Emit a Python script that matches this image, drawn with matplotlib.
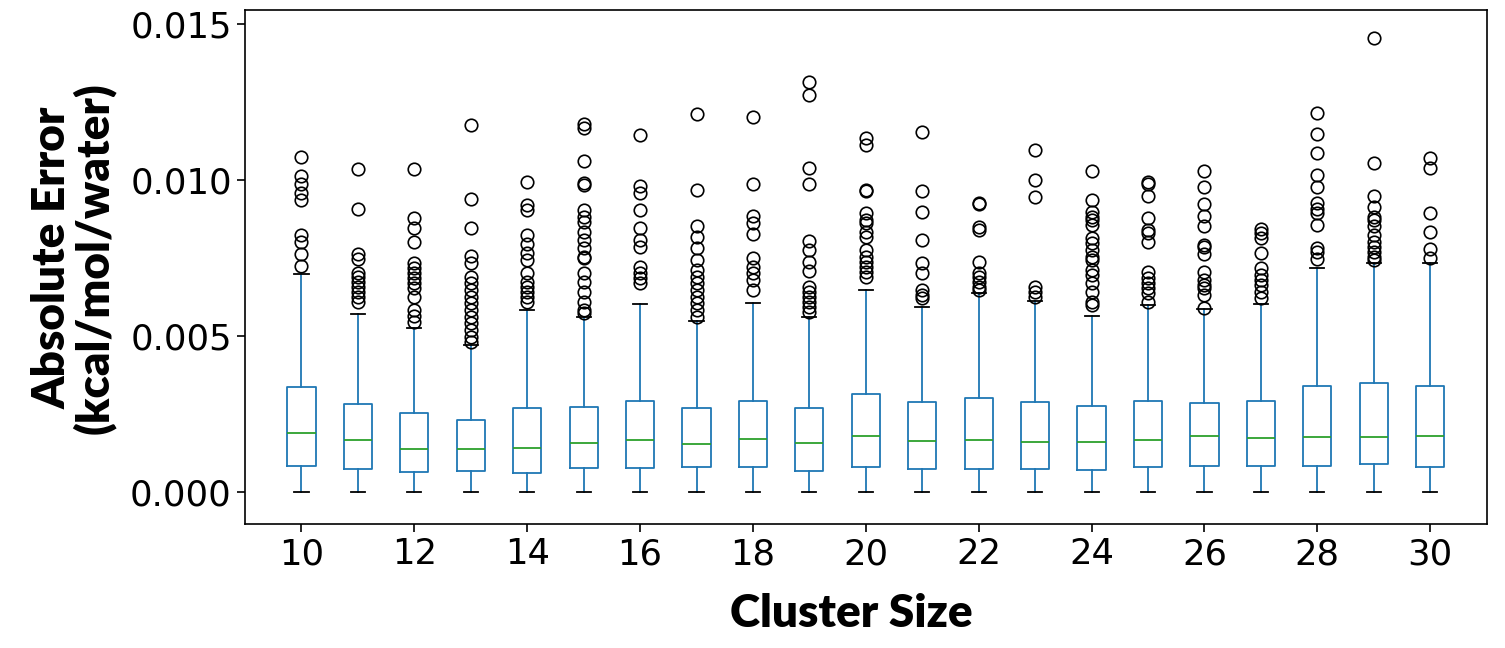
import matplotlib.pyplot as plt
import numpy as np

# cluster sizes on the x axis
sizes = list(range(10, 31))

# box statistics (kcal/mol/water)
q1 = [0.00083, 0.00074, 0.00064, 0.00067, 0.00061, 0.00077, 0.00077, 0.00080, 0.00080, 0.00067, 0.00080,
      0.00074, 0.00074, 0.00074, 0.00071, 0.00080, 0.00083, 0.00083, 0.00083, 0.00090, 0.00080]
med = [0.00189, 0.00167, 0.00138, 0.00138, 0.00141, 0.00157, 0.00167, 0.00154, 0.00170, 0.00157, 0.00180,
       0.00163, 0.00167, 0.00160, 0.00160, 0.00167, 0.00180, 0.00173, 0.00176, 0.00176, 0.00180]
q3 = [0.00337, 0.00282, 0.00253, 0.00231, 0.00269, 0.00272, 0.00292, 0.00269, 0.00292, 0.00269, 0.00314,
      0.00288, 0.00301, 0.00288, 0.00276, 0.00292, 0.00285, 0.00292, 0.00340, 0.00349, 0.00340]
whislo = [0.0] * 21
whishi = [0.00699, 0.00570, 0.00526, 0.00471, 0.00583, 0.00561, 0.00603, 0.00548, 0.00606, 0.00561, 0.00647,
          0.00593, 0.00638, 0.00612, 0.00564, 0.00600, 0.00587, 0.00603, 0.00718, 0.00734, 0.00734]

fliers = [
    [0.01074, 0.01013, 0.00987, 0.00958, 0.00936, 0.00824, 0.00801, 0.00763, 0.00724],
    [0.01035, 0.00907, 0.00763, 0.00747, 0.00702, 0.00689, 0.00673, 0.00657, 0.00641, 0.00625, 0.00609],
    [0.01035, 0.00878, 0.00846, 0.00801, 0.00734, 0.00718, 0.00702, 0.00686, 0.00670, 0.00654, 0.00625,
     0.00583, 0.00564, 0.00545],
    [0.01176, 0.00939, 0.00846, 0.00756, 0.00734, 0.00689, 0.00670, 0.00647, 0.00625, 0.00606, 0.00583,
     0.00561, 0.00542, 0.00519, 0.00497, 0.00481],
    [0.00994, 0.00920, 0.00904, 0.00824, 0.00795, 0.00766, 0.00744, 0.00702, 0.00673, 0.00657, 0.00641,
     0.00625, 0.00609],
    [0.01179, 0.01167, 0.01061, 0.00990, 0.00984, 0.00904, 0.00881, 0.00865, 0.00833, 0.00808, 0.00782,
     0.00753, 0.00750, 0.00702, 0.00673, 0.00641, 0.00609, 0.00583, 0.00574],
    [0.01144, 0.00981, 0.00958, 0.00904, 0.00846, 0.00808, 0.00785, 0.00721, 0.00702, 0.00686, 0.00670],
    [0.01212, 0.00968, 0.00853, 0.00817, 0.00782, 0.00744, 0.00712, 0.00689, 0.00670, 0.00647, 0.00625,
     0.00606, 0.00583, 0.00561],
    [0.01202, 0.00987, 0.00885, 0.00862, 0.00827, 0.00750, 0.00721, 0.00702, 0.00679, 0.00647],
    [0.01314, 0.01272, 0.01038, 0.00987, 0.00804, 0.00776, 0.00737, 0.00708, 0.00657, 0.00641, 0.00625,
     0.00609, 0.00593, 0.00577],
    [0.01135, 0.01112, 0.00968, 0.00965, 0.00894, 0.00872, 0.00862, 0.00833, 0.00817, 0.00776, 0.00753,
     0.00737, 0.00721, 0.00705, 0.00689],
    [0.01154, 0.00965, 0.00897, 0.00808, 0.00734, 0.00702, 0.00647, 0.00631, 0.00622],
    [0.00926, 0.00923, 0.00849, 0.00840, 0.00737, 0.00702, 0.00689, 0.00673, 0.00657, 0.00647],
    [0.01096, 0.01000, 0.00946, 0.00657, 0.00641, 0.00625],
    [0.01029, 0.00936, 0.00897, 0.00881, 0.00872, 0.00856, 0.00814, 0.00798, 0.00776, 0.00753, 0.00744,
     0.00712, 0.00696, 0.00670, 0.00641, 0.00609, 0.00600],
    [0.00994, 0.00987, 0.00949, 0.00878, 0.00840, 0.00830, 0.00801, 0.00705, 0.00686, 0.00670, 0.00654,
     0.00638, 0.00609],
    [0.01029, 0.00978, 0.00923, 0.00885, 0.00853, 0.00792, 0.00785, 0.00763, 0.00705, 0.00679, 0.00663,
     0.00654, 0.00631, 0.00590],
    [0.00843, 0.00830, 0.00814, 0.00766, 0.00718, 0.00696, 0.00679, 0.00663, 0.00641, 0.00622],
    [0.01215, 0.01147, 0.01087, 0.01016, 0.00978, 0.00926, 0.00907, 0.00894, 0.00856, 0.00782, 0.00769,
     0.00747],
    [0.01455, 0.01054, 0.00949, 0.00913, 0.00881, 0.00872, 0.00853, 0.00824, 0.00801, 0.00785, 0.00769,
     0.00753, 0.00744],
    [0.01071, 0.01038, 0.00894, 0.00833, 0.00779, 0.00750],
]

stats = []
for i in range(len(sizes)):
    stats.append({
        "q1": q1[i], "med": med[i], "q3": q3[i],
        "whislo": whislo[i], "whishi": whishi[i],
        "fliers": np.array(fliers[i]),
    })

fig = plt.figure(figsize=(15.05, 6.48), dpi=100)
ax = fig.add_axes([0.1628, 0.1914, 0.825, 0.7939])

lw = 1.3
ax.bxp(stats, positions=sizes, widths=0.5,
       boxprops=dict(color="#1f77b4", linewidth=lw),
       whiskerprops=dict(color="#1f77b4", linewidth=lw),
       medianprops=dict(color="#2ca02c", linewidth=lw),
       capprops=dict(color="black", linewidth=lw),
       flierprops=dict(marker="o", markerfacecolor="none", markeredgecolor="black",
                       markersize=9, markeredgewidth=1.2))

ax.set_xlim(9, 31)
ax.set_ylim(-0.00103, 0.01546)
ax.set_xticks(range(10, 31, 2))
ax.set_xticklabels([str(s) for s in range(10, 31, 2)])
ax.set_yticks([0.0, 0.005, 0.010, 0.015])
ax.set_yticklabels(["0.000", "0.005", "0.010", "0.015"])
ax.tick_params(labelsize=25.5, length=6, width=1.2)
for sp in ax.spines.values():
    sp.set_linewidth(1.2)

ax.set_xlabel("Cluster Size", fontsize=33, fontweight="heavy", family="Lato")
ax.xaxis.set_label_coords(0.488, -0.135)
ax.set_ylabel("Absolute Error\n(kcal/mol/water)", fontsize=33, fontweight="heavy", family="Lato",
              linespacing=1.0)
ax.yaxis.set_label_coords(-0.104, 0.517)

fig.savefig("out.png", dpi=100)
